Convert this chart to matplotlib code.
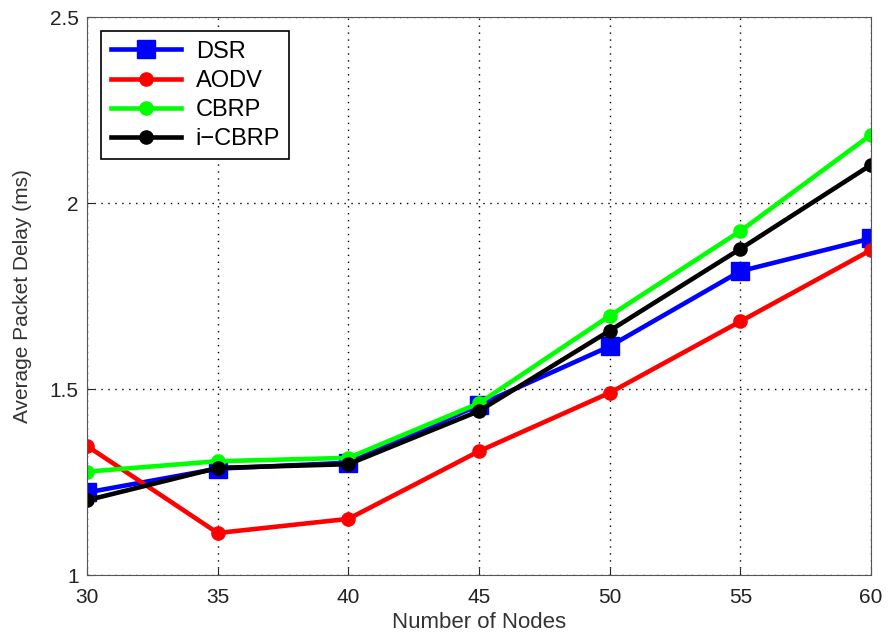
#!/usr/bin/env python
# -*- encoding: utf-8 -*-

'''average packet delay vs number of nodes
'''

import matplotlib
matplotlib.use('Agg')
import matplotlib.pyplot as plt

plt.rcParams['font.family'] = ['Liberation Sans', 'DejaVu Sans']

nodes = [30, 35, 40, 45, 50, 55, 60]
dsr = [1.222, 1.286, 1.302, 1.457, 1.615, 1.817, 1.905]
aodv = [1.347, 1.113, 1.151, 1.333, 1.490, 1.682, 1.874]
cbrp = [1.278, 1.306, 1.315, 1.462, 1.697, 1.925, 2.184]
icbrp = [1.201, 1.288, 1.298, 1.441, 1.657, 1.877, 2.103]


def plot(pic_name):
    fig = plt.figure(figsize=(8.88, 6.34), dpi=100)
    ax = fig.add_axes([0.098, 0.093, 0.883, 0.880])
    ax.plot(nodes, dsr, color='#0000ff', lw=3.3, marker='s', ms=13, label='DSR')
    ax.plot(nodes, aodv, color='#ff0000', lw=3.3, marker='o', ms=9.5, label='AODV')
    ax.plot(nodes, cbrp, color='#00ff00', lw=3.3, marker='o', ms=9.5, label='CBRP')
    ax.plot(nodes, icbrp, color='#000000', lw=3.3, marker='o', ms=9.5, label='i\u2212CBRP')

    ax.set_xlim(30, 60)
    ax.set_ylim(1, 2.5)
    ax.set_xticks(nodes)
    ax.set_yticks([1, 1.5, 2, 2.5])
    ax.set_yticklabels(['1', '1.5', '2', '2.5'])
    ax.grid(True, color='black', linestyle=(0, (1, 4)), linewidth=1)
    ax.tick_params(direction='in', labelsize=15, length=5, colors='#222222')
    ax.tick_params(axis='x', pad=9)
    ax.tick_params(axis='y', pad=6)
    for s in ax.spines.values():
        s.set_color('#555555')
    ax.set_xlabel('Number of Nodes', fontsize=16, color='#333333', labelpad=4)
    ax.set_ylabel('Average Packet Delay (ms)', fontsize=15, color='#333333',
                  labelpad=13)
    leg = ax.legend(loc='upper left', fontsize=17, fancybox=False,
                    framealpha=1, edgecolor='black', handlelength=3.0,
                    borderaxespad=0.6, labelspacing=0.3, handletextpad=0.6,
                    borderpad=0.4)
    leg.get_frame().set_linewidth(1.2)
    fig.savefig(pic_name, dpi=100)


def main():
    plot('out.png')


if __name__ == '__main__':
    main()
